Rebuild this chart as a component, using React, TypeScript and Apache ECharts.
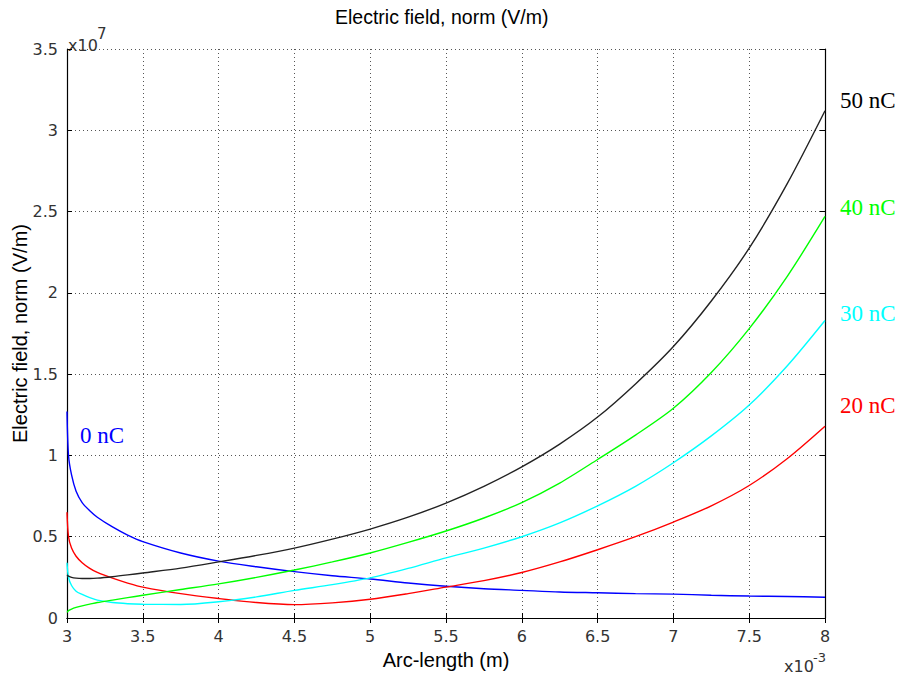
import React, { useEffect, useRef } from "react";
import * as echarts from "echarts";

// x in units of 1e-3 m, y in units of 1e7 V/m
const arcLength = [3, 3.01, 3.03, 3.06, 3.1, 3.15, 3.2, 3.3, 3.4, 3.5, 3.75, 4, 4.25, 4.5, 4.75, 5, 5.25, 5.5, 5.75, 6, 6.25, 6.5, 6.75, 7, 7.25, 7.5, 7.75, 8];

const field0nC = [1.27, 1.0, 0.88, 0.78, 0.71, 0.66, 0.62, 0.56, 0.51, 0.47, 0.40, 0.35, 0.315, 0.285, 0.26, 0.24, 0.215, 0.195, 0.18, 0.17, 0.16, 0.155, 0.15, 0.147, 0.14, 0.135, 0.132, 0.128];
const field20nC = [0.65, 0.5, 0.43, 0.38, 0.34, 0.305, 0.28, 0.245, 0.215, 0.19, 0.15, 0.12, 0.095, 0.082, 0.093, 0.115, 0.15, 0.19, 0.23, 0.28, 0.345, 0.42, 0.5, 0.59, 0.69, 0.815, 0.98, 1.18];
const field30nC = [0.34, 0.25, 0.2, 0.165, 0.145, 0.125, 0.11, 0.095, 0.088, 0.085, 0.083, 0.1, 0.13, 0.17, 0.205, 0.247, 0.305, 0.37, 0.43, 0.5, 0.585, 0.69, 0.81, 0.955, 1.12, 1.31, 1.55, 1.83];
const field40nC = [0.035, 0.045, 0.055, 0.065, 0.075, 0.085, 0.095, 0.11, 0.125, 0.14, 0.175, 0.21, 0.25, 0.295, 0.345, 0.40, 0.465, 0.535, 0.615, 0.71, 0.83, 0.975, 1.125, 1.29, 1.51, 1.78, 2.1, 2.47];
const field50nC = [0.265, 0.258, 0.25, 0.245, 0.243, 0.243, 0.245, 0.254, 0.265, 0.277, 0.307, 0.345, 0.385, 0.43, 0.485, 0.547, 0.62, 0.707, 0.81, 0.93, 1.07, 1.236, 1.44, 1.67, 1.95, 2.275, 2.67, 3.12];

const seriesNames = ["0 nC", "20 nC", "30 nC", "40 nC", "50 nC"];
const seriesColors = ["#0000ff", "#ff0000", "#00ffff", "#00ff00", "#222222"];
const seriesValues = [field0nC, field20nC, field30nC, field40nC, field50nC];

const xTicks = { min: 3, max: 8, interval: 0.5 };
const yTicks = { min: 0, max: 3.5, interval: 0.5 };

const titleText = "Electric field, norm (V/m)";
const xName = "Arc-length (m)";
const yName = "Electric field, norm (V/m)";

export default function App() {
  const ref = useRef<HTMLDivElement>(null);
  useEffect(() => {
    if (!ref.current) return;
    const chart = echarts.init(ref.current, null, { renderer: "svg" });
    const tickFont = { fontFamily: "DejaVu Sans", fontSize: 16, color: "#333" };
    const splitLine = { show: true, lineStyle: { color: "#555", type: [1, 3] as any, width: 1 } };
    const axisLine = { show: true, lineStyle: { color: "#000", width: 1.2 } };
    const axisTick = { show: true, inside: true, length: 5, lineStyle: { color: "#000" } };
    const labelGraphics = [
      { text: "50 nC", color: "#000", x: 840, y: 100 },
      { text: "40 nC", color: "#00ff00", x: 840, y: 207 },
      { text: "30 nC", color: "#00ffff", x: 840, y: 313 },
      { text: "20 nC", color: "#ff0000", x: 840, y: 405 },
      { text: "0 nC", color: "#0000ff", x: 80, y: 435 },
    ].map((l) => ({
      type: "text",
      x: l.x,
      y: l.y,
      style: {
        text: l.text,
        fill: l.color,
        font: '23px "Liberation Serif"',
        textVerticalAlign: "middle",
      },
    }));
    chart.setOption({
      animation: false,
      title: {
        text: titleText,
        left: 330,
        top: 2,
        textStyle: { fontFamily: "Liberation Sans", fontSize: 19.5, fontWeight: "normal", color: "#000" },
      },
      grid: { left: 67, right: 81, top: 49, bottom: 59, containLabel: false, outerBoundsMode: "none" },
      xAxis: [
        {
          type: "value",
          ...xTicks,
          position: "bottom",
          axisLine,
          axisTick,
          splitLine,
          axisLabel: { ...tickFont, margin: 10, formatter: (v: number) => String(v) },
          name: xName,
          nameLocation: "middle",
          nameGap: 42,
          nameMoveOverlap: false,
          nameTextStyle: { fontFamily: "Liberation Sans", fontSize: 20, color: "#000", verticalAlign: "middle" },
        },
        {
          type: "value",
          ...xTicks,
          position: "top",
          axisLine,
          axisTick,
          splitLine: { show: false },
          axisLabel: { show: false },
        },
      ],
      yAxis: [
        {
          type: "value",
          ...yTicks,
          position: "left",
          axisLine,
          axisTick,
          splitLine,
          axisLabel: { ...tickFont, margin: 9, formatter: (v: number) => String(v) },
          name: yName,
          nameLocation: "middle",
          nameGap: 47,
          nameMoveOverlap: false,
          nameTextStyle: { fontFamily: "Liberation Sans", fontSize: 20, color: "#000", verticalAlign: "middle" },
        },
        {
          type: "value",
          ...yTicks,
          position: "right",
          axisLine,
          axisTick,
          splitLine: { show: false },
          axisLabel: { show: false },
        },
      ],
      series: seriesNames.map((name, i) => ({
        name,
        type: "line",
        xAxisIndex: 0,
        yAxisIndex: 0,
        showSymbol: false,
        symbol: "none",
        smooth: 0.3,
        lineStyle: { color: seriesColors[i], width: 1.4 },
        itemStyle: { color: seriesColors[i] },
        data: arcLength.map((x, j) => [x, seriesValues[i][j]]),
        z: 3 + i,
      })),
      graphic: [
        ...labelGraphics,
        {
          type: "text",
          x: 68,
          y: 45,
          style: {
            text: "x10",
            fill: "#333",
            font: '16px "DejaVu Sans"',
            textVerticalAlign: "middle",
          },
        },
        {
          type: "text",
          x: 97,
          y: 26,
          style: { text: "7", fill: "#333", font: '15px "DejaVu Sans"', textVerticalAlign: "top" },
        },
        {
          type: "text",
          x: 784,
          y: 666,
          style: {
            text: "x10",
            fill: "#333",
            font: '16px "DejaVu Sans"',
            textVerticalAlign: "middle",
          },
        },
        {
          type: "text",
          x: 813,
          y: 651,
          style: { text: "-3", fill: "#333", font: '13px "DejaVu Sans"', textVerticalAlign: "top" },
        },
      ],
    });
    return () => chart.dispose();
  }, []);
  return <div ref={ref} style={{ width: 906, height: 677, position: "absolute", left: 0, top: 0 }} />;
}
